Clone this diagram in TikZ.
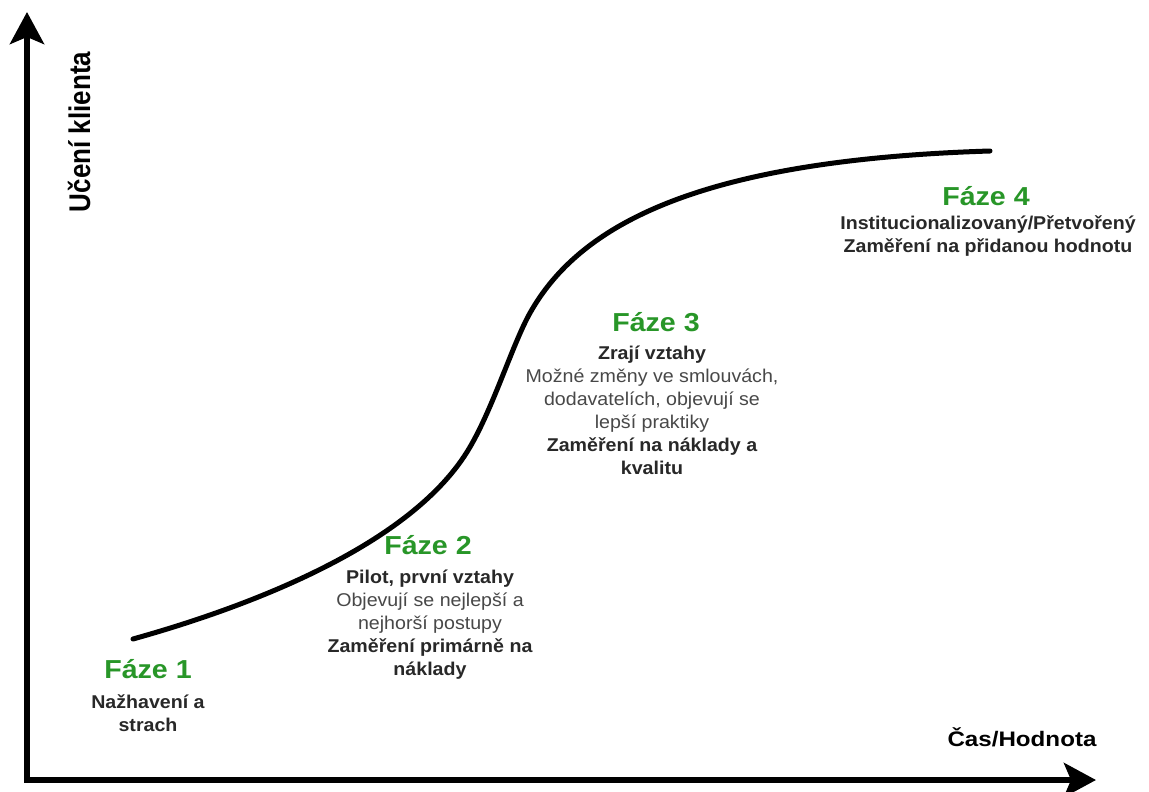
\documentclass[tikz,border=0pt]{standalone}
\usepackage{fontspec}
\setmainfont{Liberation Sans}
\usepackage{graphicx}
\usetikzlibrary{arrows.meta}

\definecolor{phasegreen}{RGB}{40,150,40}
\definecolor{darktext}{RGB}{40,40,40}
\definecolor{softtext}{RGB}{72,72,72}

% text in this figure is set slightly wide
\newcommand{\widen}[1]{\scalebox{1.06}[1]{#1}}
\newcommand{\headwide}[1]{\scalebox{1.1}[1]{#1}}
\newcommand{\tallen}[1]{\scalebox{1}[1.15]{#1}}
\newcommand{\dk}[1]{{\bfseries\color{darktext}#1}}

\begin{document}
\begin{tikzpicture}[x=1pt, y=-1pt,
  axis/.style={line width=6pt, line cap=rect, draw=black,
    -{Stealth[length=32pt, width=34pt, inset=7pt]}},
  growth/.style={line width=5pt, line cap=round, draw=black},
  phasehead/.style={anchor=base, inner sep=0pt, text=phasegreen,
    font=\fontsize{26}{30}\selectfont\bfseries},
  phasebody/.style={anchor=base, inner sep=0pt, text=softtext,
    font=\fontsize{18.5}{23}\selectfont},
  axislabel/.style={inner sep=0pt, text=black},
]
\useasboundingbox (0,0) rectangle (1149,792);
\fill[white] (0,0) rectangle (1149,792);

% axes
\coordinate (origin) at (27,780);
\coordinate (ytip) at (27,12);
\coordinate (xtip) at (1096,780);
\draw[axis] (origin) -- (ytip);
\draw[axis] (origin) -- (xtip);

\node[axislabel, rotate=90, font=\fontsize{26}{30}\selectfont\bfseries] (ylab) at (79,132) {\tallen{Učení klienta}};
\node[axislabel, font=\fontsize{21}{25}\selectfont\bfseries, anchor=base] (xlab) at (1022,746) {\scalebox{1.15}[1]{Čas/Hodnota}};

% S-shaped learning curve
\coordinate (cstart) at (133,639);
\coordinate (clow) at (467,452);
\coordinate (cmid) at (530,313);
\coordinate (cend) at (990,151);
\draw[growth] (cstart) .. controls (244,608) and (407,548) .. (clow)
  .. controls (492,412) and (512,345) .. (cmid)
  .. controls (580,224) and (700,160) .. (cend);

% phase 1
\node[phasehead] (h1) at (148,678) {\headwide{Fáze 1}};
\node[phasebody] (b1) at (148,708) {\widen{\begin{tabular}[t]{@{}c@{}}
  \dk{Nažhavení a}\\ \dk{strach}\end{tabular}}};

% phase 2
\node[phasehead] (h2) at (428,554) {\headwide{Fáze 2}};
\node[phasebody] (b2) at (430,583) {\widen{\begin{tabular}[t]{@{}c@{}}
  \dk{Pilot, první vztahy}\\ Objevují se nejlepší a\\ nejhorší postupy\\
  \dk{Zaměření primárně na}\\ \dk{náklady}\end{tabular}}};

% phase 3
\node[phasehead] (h3) at (656,331) {\headwide{Fáze 3}};
\node[phasebody] (b3) at (652,359) {\widen{\begin{tabular}[t]{@{}c@{}}
  \dk{Zrají vztahy}\\ Možné změny ve smlouvách,\\ dodavatelích, objevují se\\
  lepší praktiky\\ \dk{Zaměření na náklady a}\\ \dk{kvalitu}\end{tabular}}};

% phase 4
\node[phasehead] (h4) at (986,205) {\headwide{Fáze 4}};
\node[phasebody] (b4) at (988,229) {\widen{\begin{tabular}[t]{@{}c@{}}
  \dk{Institucionalizovaný/Přetvořený}\\ \dk{Zaměření na přidanou hodnotu}\end{tabular}}};
\end{tikzpicture}
\end{document}
